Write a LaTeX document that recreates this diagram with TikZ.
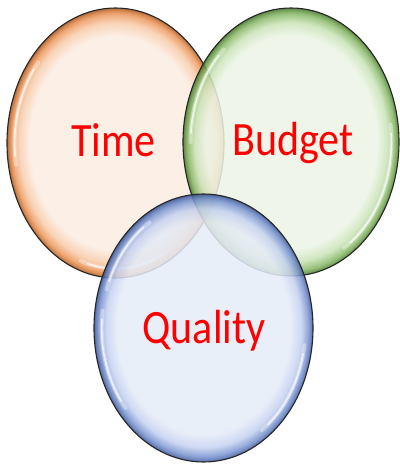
\documentclass[tikz,border=0pt]{standalone}
\usepackage{fontspec}
\setmainfont{Carlito}
\usetikzlibrary{calc}
\pgfdeclareradialshading{orborange}{\pgfpoint{0bp}{0bp}}{rgb(0bp)=(0.985,0.925,0.885); rgb(19.8bp)=(0.985,0.925,0.885); rgb(22.3bp)=(0.97,0.80,0.67); rgb(23.9bp)=(0.93,0.60,0.37); rgb(24.6bp)=(0.80,0.45,0.20); rgb(25bp)=(0.62,0.32,0.12); rgb(50bp)=(0.62,0.32,0.12)}
\pgfdeclareradialshading{orbgreen}{\pgfpoint{0bp}{0bp}}{rgb(0bp)=(0.925,0.96,0.90); rgb(19.8bp)=(0.925,0.96,0.90); rgb(22.3bp)=(0.79,0.89,0.72); rgb(23.9bp)=(0.55,0.73,0.42); rgb(24.6bp)=(0.38,0.58,0.26); rgb(25bp)=(0.26,0.44,0.17); rgb(50bp)=(0.26,0.44,0.17)}
\pgfdeclareradialshading{orbblue}{\pgfpoint{0bp}{0bp}}{rgb(0bp)=(0.90,0.925,0.97); rgb(19.8bp)=(0.90,0.925,0.97); rgb(22.3bp)=(0.77,0.82,0.94); rgb(23.9bp)=(0.49,0.59,0.82); rgb(24.6bp)=(0.33,0.44,0.70); rgb(25bp)=(0.20,0.30,0.55); rgb(50bp)=(0.20,0.30,0.55)}
\tikzset{
  orb/.style={fill opacity=0.86},
  rim/.style={draw=black!85, line width=1.1pt},
  gloss/.style={draw=white, line width=4pt, opacity=0.35, line cap=round},
  glosscore/.style={draw=white, line width=1.6pt, opacity=0.7, line cap=round},
  label/.style={text=red, font=\fontsize{42}{42}\selectfont, anchor=base, yscale=1.14, transform shape, inner sep=0pt}
}
\newcommand{\glossarc}[6]{% center, rx, ry, start, end, factor
  \draw[gloss] ($(#1)+({#6*#2*cos(#4)},{#6*#3*sin(#4)})$) arc [start angle=#4, end angle=#5, x radius=#6*#2, y radius=#6*#3];
  \draw[glosscore] ($(#1)+({#6*#2*cos(#4+4)},{#6*#3*sin(#4+4)})$) arc [start angle=#4+4, end angle=#5-4, x radius=#6*#2, y radius=#6*#3];
}
\begin{document}
\begin{tikzpicture}[x=1pt,y=-1pt]
\useasboundingbox (0,0) rectangle (399,465);
% Time (orange)
\coordinate (ct) at (115.5,143);
\shade[orb, shading=orborange] (ct) ellipse [x radius=108.5, y radius=135];
\draw[rim] (ct) ellipse [x radius=108.5, y radius=135];
\glossarc{ct}{108.5}{135}{170}{220}{0.93}
\glossarc{ct}{108.5}{135}{60}{110}{0.93}
% Budget (green)
\coordinate (cb) at (291,142);
\shade[orb, shading=orbgreen] (cb) ellipse [x radius=108, y radius=134];
\draw[rim] (cb) ellipse [x radius=108, y radius=134];
\glossarc{cb}{108}{134}{-8}{58}{0.93}
\glossarc{cb}{108}{134}{180}{228}{0.93}
% Quality (blue)
\coordinate (cq) at (203.5,328);
\shade[orb, shading=orbblue] (cq) ellipse [x radius=109.5, y radius=134];
\draw[rim] (cq) ellipse [x radius=109.5, y radius=134];
\glossarc{cq}{109.5}{134}{140}{188}{0.93}
\glossarc{cq}{109.5}{134}{8}{55}{0.93}
\glossarc{cq}{109.5}{134}{198}{238}{0.93}
% labels
\node[label] (time) at (113.5,156.7) {Time};
\node[label] (budget) at (293,155.5) {Budget};
\node[label] (quality) at (204,343) {Quality};
\end{tikzpicture}
\end{document}
